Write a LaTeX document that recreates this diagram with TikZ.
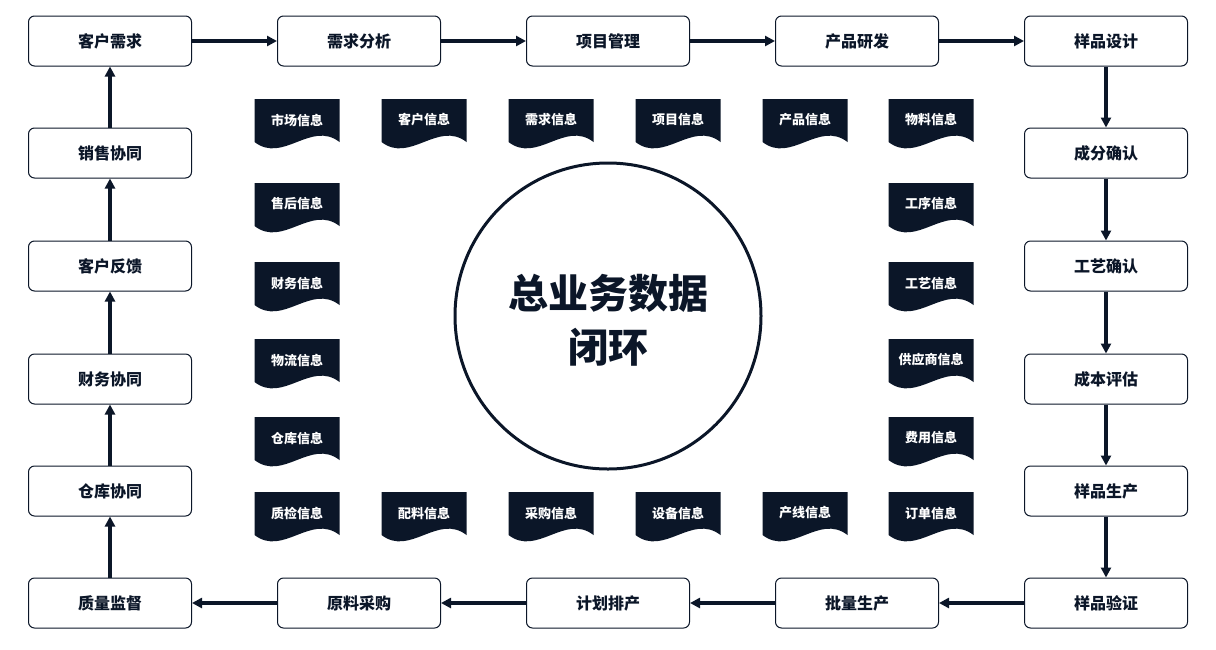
\documentclass[tikz,border=0pt]{standalone}
\usepackage{fontspec}
\setmainfont{Noto Sans CJK SC}
\usetikzlibrary{arrows.meta}
\definecolor{navy}{HTML}{0B1628}
\tikzset{
  procbox/.style={draw=navy, line width=1pt, rounded corners=6pt, fill=white,
    minimum width=163pt, minimum height=50pt, inner sep=0pt,
    font=\fontsize{16pt}{19pt}\selectfont\bfseries, text=navy},
  flow/.style={draw=navy, line width=3.2pt, -{Triangle[length=10pt,width=10pt]}},
  doctext/.style={text=white, inner sep=0pt, font=\fontsize{13pt}{15pt}\selectfont\bfseries},
  docfill/.style={fill=navy},
}
\newcommand{\docshape}[4]{% name, x, top, text
  \fill[docfill] ({#2-42.5},{#3}) -- ({#2+42.5},{#3}) -- ({#2+42.5},{#3+43})
    .. controls ({#2+14},{#3+21}) and ({#2-14},{#3+65}) .. ({#2-42.5},{#3+43}) -- cycle;
  \node[doctext] (#1) at ({#2},{#3+21}) {#4};
}
\begin{document}
\begin{tikzpicture}[x=1pt,y=-1pt]
\useasboundingbox (0,0) rectangle (1216,649);
% process boxes
\node[procbox] (b1) at (110,41) {客户需求};
\node[procbox] (b2) at (359,41) {需求分析};
\node[procbox] (b3) at (608,41) {项目管理};
\node[procbox] (b4) at (857,41) {产品研发};
\node[procbox] (b5) at (1106,41) {样品设计};
\node[procbox] (r1) at (1106,153) {成分确认};
\node[procbox] (r2) at (1106,266) {工艺确认};
\node[procbox] (r3) at (1106,379) {成本评估};
\node[procbox] (r4) at (1106,491) {样品生产};
\node[procbox] (c5) at (1106,603) {样品验证};
\node[procbox] (c4) at (857,603) {批量生产};
\node[procbox] (c3) at (608,603) {计划排产};
\node[procbox] (c2) at (359,603) {原料采购};
\node[procbox] (c1) at (110,603) {质量监督};
\node[procbox] (l4) at (110,491) {仓库协同};
\node[procbox] (l3) at (110,379) {财务协同};
\node[procbox] (l2) at (110,266) {客户反馈};
\node[procbox] (l1) at (110,153) {销售协同};
% flows
\draw[flow] (b1) -- (b2);
\draw[flow] (b2) -- (b3);
\draw[flow] (b3) -- (b4);
\draw[flow] (b4) -- (b5);
\draw[flow] (b5) -- (r1);
\draw[flow] (r1) -- (r2);
\draw[flow] (r2) -- (r3);
\draw[flow] (r3) -- (r4);
\draw[flow] (r4) -- (c5);
\draw[flow] (c5) -- (c4);
\draw[flow] (c4) -- (c3);
\draw[flow] (c3) -- (c2);
\draw[flow] (c2) -- (c1);
\draw[flow] (c1) -- (l4);
\draw[flow] (l4) -- (l3);
\draw[flow] (l3) -- (l2);
\draw[flow] (l2) -- (l1);
\draw[flow] (l1) -- (b1);
% documents
\docshape{d11}{297}{99}{市场信息}
\docshape{d12}{424}{99}{客户信息}
\docshape{d13}{551}{99}{需求信息}
\docshape{d14}{678}{99}{项目信息}
\docshape{d15}{805}{99}{产品信息}
\docshape{d16}{931}{99}{物料信息}
\docshape{dl1}{297}{183}{售后信息}
\docshape{dl2}{297}{262}{财务信息}
\docshape{dl3}{297}{339}{物流信息}
\docshape{dl4}{297}{417}{仓库信息}
\docshape{dr1}{931}{183}{工序信息}
\docshape{dr2}{931}{262}{工艺信息}
\docshape{dr3}{931}{339}{供应商信息}
\docshape{dr4}{931}{417}{费用信息}
\docshape{d61}{297}{492}{质检信息}
\docshape{d62}{424}{492}{配料信息}
\docshape{d63}{551}{492}{采购信息}
\docshape{d64}{678}{492}{设备信息}
\docshape{d65}{805}{492}{产线信息}
\docshape{d66}{931}{492}{订单信息}
% center
\node[draw=navy, line width=3pt, circle, minimum size=306pt, inner sep=0pt] (hub) at (608,316) {};
\node[text=navy, align=center, font=\fontsize{40pt}{54pt}\selectfont\bfseries] (hubtext) at (608,320) {总业务数据\\闭环};
\end{tikzpicture}
\end{document}
